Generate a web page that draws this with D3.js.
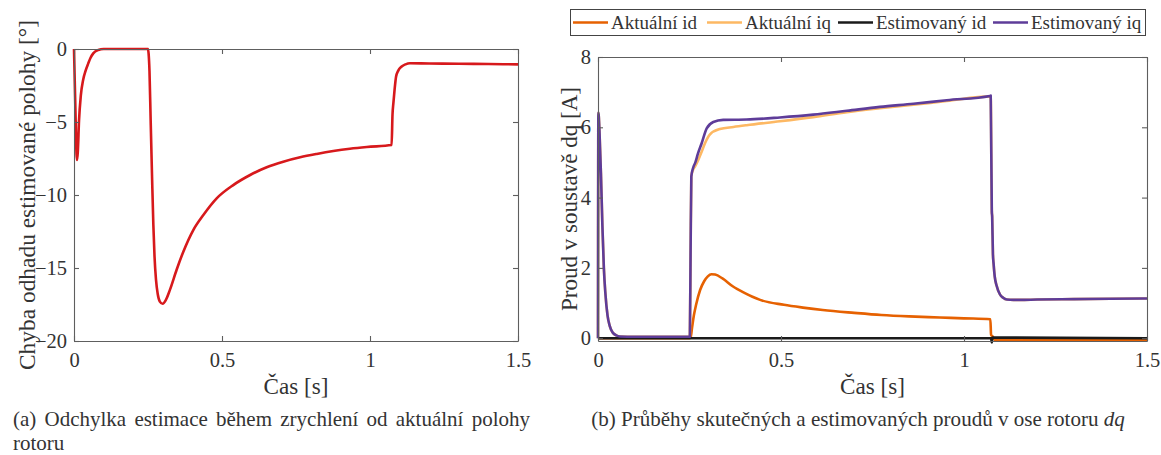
<!DOCTYPE html>
<html>
<head>
<meta charset="utf-8">
<script src="https://cdn.jsdelivr.net/npm/d3@7"></script>
<style>
  body { margin: 0; background: #fff; }
  svg { display: block; }
</style>
</head>
<body>
<script>
// ---- data (a): chyba odhadu polohy ----
const errTime = [0, 0.0056, 0.0085, 0.0105, 0.013, 0.017, 0.023, 0.031, 0.039, 0.048, 0.056, 0.065, 0.082, 0.1, 0.25,
  0.252, 0.255, 0.259, 0.264, 0.268, 0.272, 0.277, 0.283, 0.29, 0.2995, 0.31, 0.324, 0.347, 0.369, 0.403, 0.437,
  0.482, 0.538, 0.595, 0.651, 0.707, 0.764, 0.82, 0.876, 0.932, 0.989, 1.073, 1.076, 1.079, 1.083, 1.088, 1.095,
  1.107, 1.12, 1.135, 1.2, 1.3, 1.4, 1.5];
const errValue = [0, -4.9, -7.2, -7.6, -7.0, -4.9, -3.2, -2.1, -1.5, -1.0, -0.6, -0.3, -0.07, 0, 0,
  -0.3, -1.5, -4.9, -9.0, -12.0, -14.2, -15.8, -16.8, -17.3, -17.45, -17.2, -16.5, -15.1, -13.9, -12.4, -11.37,
  -10.23, -9.32, -8.63, -8.1, -7.72, -7.42, -7.19, -6.99, -6.83, -6.71, -6.58, -4.5, -3.7, -2.8, -1.9, -1.5,
  -1.2, -1.05, -0.98, -0.99, -1.01, -1.03, -1.05];

// ---- data (b): proudy v soustave dq ----
const idActTime = [0, 0.25, 0.253, 0.257, 0.262, 0.268, 0.279, 0.29, 0.3, 0.31, 0.32, 0.34, 0.369, 0.4, 0.422, 0.443,
  0.508, 0.56, 0.614, 0.7, 0.774, 0.85, 0.934, 1.0, 1.072, 1.074, 1.078, 1.085, 1.5];
const idActValue = [0, 0, 0.02, 0.3, 0.65, 0.95, 1.37, 1.62, 1.76, 1.82, 1.81, 1.7, 1.47, 1.29, 1.18, 1.09,
  0.95, 0.87, 0.8, 0.72, 0.66, 0.62, 0.59, 0.565, 0.54, 0.1, 0.05, -0.05, -0.05];

const iqActTime = [0, 0.001, 0.004, 0.008, 0.012, 0.016, 0.02, 0.026, 0.032, 0.04, 0.05, 0.06, 0.1, 0.2, 0.251,
  0.253, 0.255, 0.26, 0.266, 0.273, 0.283, 0.292, 0.306, 0.333, 0.37, 0.406, 0.497, 0.588, 0.68, 0.77, 0.862,
  0.953, 1.073, 1.076, 1.077, 1.079, 1.081, 1.084, 1.089, 1.098, 1.107, 1.117, 1.135, 1.153, 1.2, 1.3, 1.4, 1.5];
const iqActValue = [0, 6.42, 5.9, 4.7, 3.2, 2.0, 1.3, 0.65, 0.35, 0.16, 0.08, 0.05, 0.04, 0.04, 0.04,
  2.5, 4.6, 4.8, 4.9, 5.05, 5.3, 5.54, 5.8, 5.95, 6.01, 6.06, 6.17, 6.29, 6.43, 6.54, 6.64,
  6.75, 6.88, 3.6, 3.45, 2.4, 2.1, 1.75, 1.5, 1.25, 1.15, 1.1, 1.09, 1.09, 1.1, 1.11, 1.12, 1.13];

const iqEstTime = [0, 0.001, 0.004, 0.008, 0.012, 0.016, 0.02, 0.026, 0.032, 0.04, 0.05, 0.06, 0.1, 0.2, 0.251,
  0.253, 0.255, 0.26, 0.266, 0.273, 0.283, 0.297, 0.315, 0.342, 0.406, 0.497, 0.588, 0.68, 0.77, 0.862,
  0.953, 1.071, 1.073, 1.076, 1.077, 1.079, 1.081, 1.084, 1.089, 1.098, 1.107, 1.117, 1.135, 1.153, 1.2, 1.3, 1.4, 1.5];
const iqEstValue = [0, 6.42, 5.9, 4.7, 3.2, 2.0, 1.3, 0.65, 0.35, 0.16, 0.08, 0.05, 0.04, 0.04, 0.04,
  2.5, 4.6, 4.85, 5.0, 5.25, 5.54, 5.97, 6.15, 6.21, 6.22, 6.28, 6.36, 6.47, 6.58, 6.67,
  6.77, 6.89, 6.9, 3.6, 3.45, 2.4, 2.1, 1.75, 1.5, 1.25, 1.15, 1.1, 1.09, 1.09, 1.1, 1.11, 1.12, 1.13];

const idEstTime = [0, 1.074, 1.076, 1.078, 1.5];
const idEstValue = [0, 0, -0.12, 0.02, 0];

const timeTicks = [0, 0.5, 1, 1.5];
const errTicks = [0, -5, -10, -15, -20];
const currTicks = [0, 2, 4, 6, 8];

const legendNames = ["Aktuální id", "Aktuální iq", "Estimovaný id", "Estimovaný iq"];
const legendColors = ["#e66101", "#fdb863", "#1a1a1a", "#5e3c99"];

const W = 1161, H = 455;
const axisColor = "#5e5e5e", textColor = "#333";
const serif = '"Liberation Serif", "Times New Roman", serif';

const svg = d3.select("body").append("svg")
  .attr("width", W)
  .attr("height", H);

// every text gets the serif face inline
function addText(parent, size) {
  return parent.append("text")
    .attr("fill", textColor)
    .style("font-family", serif)
    .style("font-size", size + "px");
}
// scale font so that the text spans the given length
function fitLength(sel, size, target) {
  const w = sel.node().getComputedTextLength();
  sel.style("font-size", (size * target / w).toFixed(2) + "px");
}

// draws box, ticks and labels of one MATLAB-like axes
function drawFrame(g, x, y, xTicks, yTicks, w, h) {
  g.append("g").attr("transform", `translate(0,${h})`)
    .call(d3.axisBottom(x).tickValues(xTicks).tickSizeInner(-5).tickSizeOuter(0).tickPadding(11)
      .tickFormat(d3.format("")));
  g.append("g")
    .call(d3.axisLeft(y).tickValues(yTicks).tickSizeInner(-5).tickSizeOuter(0).tickPadding(7)
      .tickFormat(d3.format("")));
  g.append("g")
    .call(d3.axisTop(x).tickValues(xTicks).tickSizeInner(-5).tickSizeOuter(0).tickFormat(""));
  g.append("g").attr("transform", `translate(${w},0)`)
    .call(d3.axisRight(y).tickValues(yTicks).tickSizeInner(-5).tickSizeOuter(0).tickFormat(""));

  g.selectAll("g").attr("font-family", serif);
  g.selectAll(".domain").attr("stroke", axisColor).attr("stroke-width", 1.1);
  g.selectAll(".tick line").attr("stroke", axisColor).attr("stroke-width", 1.1);
  g.selectAll(".tick text")
    .attr("fill", textColor)
    .style("font-family", serif)
    .style("font-size", "20.5px");
}

// ---- chart (a) ----
const aL = 74, aT = 49, aW = 444, aH = 292;
const gA = svg.append("g").attr("transform", `translate(${aL},${aT})`);
const xA = d3.scaleLinear().domain([0, 1.5]).range([0, aW]);
const yA = d3.scaleLinear().domain([-20, 0]).range([aH, 0]);

gA.append("path")
  .datum(d3.zip(errTime, errValue))
  .attr("fill", "none")
  .attr("stroke", "#d7191c")
  .attr("stroke-width", 2.6)
  .attr("stroke-linejoin", "round")
  .attr("d", d3.line().x(d => xA(d[0])).y(d => yA(d[1])).curve(d3.curveMonotoneX));

drawFrame(gA, xA, yA, timeTicks, errTicks, aW, aH);

const xLabA = addText(gA, 23)
  .attr("x", aW / 2).attr("y", 345)
  .attr("text-anchor", "middle")
  .text("Čas [s]");
fitLength(xLabA, 23, 65);
const yLabA = addText(gA, 23)
  .attr("transform", `translate(${35 - aL},${aH / 2}) rotate(-90)`)
  .attr("text-anchor", "middle")
  .text("Chyba odhadu estimované polohy [°]");
fitLength(yLabA, 23, 350);

// ---- chart (b) ----
const bL = 598, bT = 57, bW = 549, bH = 284;
const gB = svg.append("g").attr("transform", `translate(${bL},${bT})`);
const xB = d3.scaleLinear().domain([0, 1.5]).range([0, bW]);
const yB = d3.scaleLinear().domain([-0.08, 8]).range([bH, 0]);

const lineB = d3.line().x(d => xB(d[0])).y(d => yB(d[1])).curve(d3.curveMonotoneX);
const seriesB = [
  d3.zip(idActTime, idActValue),
  d3.zip(iqActTime, iqActValue),
  d3.zip(idEstTime, idEstValue),
  d3.zip(iqEstTime, iqEstValue)
];
gB.selectAll("path.series")
  .data(seriesB)
  .join("path")
  .attr("class", "series")
  .attr("fill", "none")
  .attr("stroke", (d, i) => legendColors[i])
  .attr("stroke-width", 2.6)
  .attr("stroke-linejoin", "round")
  .attr("d", d => lineB(d));

drawFrame(gB, xB, yB, timeTicks, currTicks, bW, bH);

const xLabB = addText(gB, 23)
  .attr("x", bW / 2).attr("y", 394 - bT)
  .attr("text-anchor", "middle")
  .text("Čas [s]");
fitLength(xLabB, 23, 65);
const yLabB = addText(gB, 23)
  .attr("transform", `translate(${577 - bL},${bH / 2}) rotate(-90)`)
  .attr("text-anchor", "middle")
  .text("Proud v soustavě dq [A]");
fitLength(yLabB, 23, 224);

// legend
const leg = svg.append("g");
leg.append("rect")
  .attr("x", 570.5).attr("y", 9.5).attr("width", 575).attr("height", 26)
  .attr("fill", "#fff").attr("stroke", "#444").attr("stroke-width", 1);
const legLineX = [573, 707, 838, 993];
legendNames.forEach((name, i) => {
  leg.append("line")
    .attr("x1", legLineX[i]).attr("x2", legLineX[i] + 35).attr("y1", 22.5).attr("y2", 22.5)
    .attr("stroke", legendColors[i]).attr("stroke-width", 2.6);
  addText(leg, 19)
    .attr("x", legLineX[i] + 38).attr("y", 29)
    .text(name);
});

// ---- captions ----
function justifiedLine(text, x0, x1, yBase) {
  const words = text.split(" ");
  const nodes = words.map(wd => addText(svg, 21).attr("y", yBase).text(wd));
  const widths = nodes.map(n => n.node().getComputedTextLength());
  const gap = (x1 - x0 - d3.sum(widths)) / (words.length - 1);
  let cx = x0;
  nodes.forEach((n, i) => { n.attr("x", cx); cx += widths[i] + gap; });
}
justifiedLine("(a) Odchylka estimace během zrychlení od aktuální polohy", 13, 530, 426);
addText(svg, 21).attr("x", 13).attr("y", 450).text("rotoru");

const capB = addText(svg, 21)
  .attr("x", 858).attr("y", 426).attr("text-anchor", "middle");
capB.append("tspan").text("(b) Průběhy skutečných a estimovaných proudů v ose rotoru ");
capB.append("tspan").style("font-style", "italic").text("dq");
fitLength(capB, 21, 534);
</script>
</body>
</html>
